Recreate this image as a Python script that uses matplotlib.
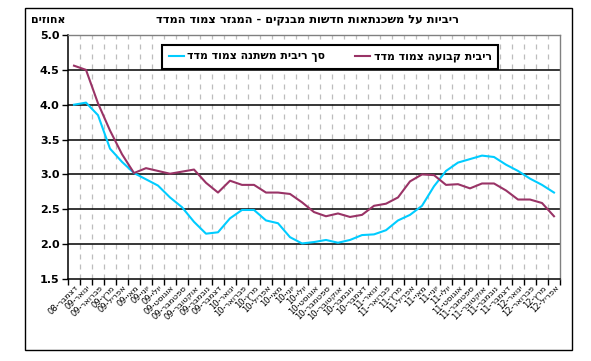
import matplotlib
matplotlib.use("Agg")
import matplotlib.pyplot as plt
from matplotlib.patches import Rectangle
import numpy as np

plt.rcParams['font.family'] = ['DejaVu Sans']

def vis(s):
    # visual (LTR) order for Hebrew text
    return s[::-1]

years = ["08"] + ["09"] * 12 + ["10"] * 12 + ["11"] * 12 + ["12"] * 4
month_seq = ["דצמבר"] + (["ינואר", "פברואר", "מרץ", "אפריל", "מאי", "יוני", "יולי",
                          "אוגוסט", "ספטמבר", "אוקטובר", "נובמבר", "דצמבר"] * 3) + \
            ["ינואר", "פברואר", "מרץ", "אפריל"]
tick_labels = [y + "-" + vis(m) for m, y in zip(month_seq, years)]

variable_rate = [4.00, 4.03, 3.85, 3.37, 3.18, 3.02, 2.93, 2.84, 2.67, 2.53,
                 2.32, 2.15, 2.17, 2.37, 2.49, 2.49, 2.34, 2.30, 2.10, 2.01,
                 2.03, 2.06, 2.02, 2.06, 2.13, 2.14, 2.20, 2.34, 2.42, 2.55,
                 2.83, 3.05, 3.17, 3.22, 3.27, 3.25, 3.14, 3.05, 2.94, 2.85,
                 2.74]
fixed_rate = [4.56, 4.50, 4.02, 3.63, 3.29, 3.02, 3.09, 3.05, 3.01, 3.04,
              3.07, 2.88, 2.74, 2.91, 2.85, 2.85, 2.74, 2.74, 2.72, 2.60,
              2.46, 2.40, 2.44, 2.39, 2.42, 2.55, 2.58, 2.67, 2.90, 3.00,
              2.99, 2.85, 2.86, 2.80, 2.87, 2.87, 2.77, 2.64, 2.64, 2.59,
              2.40]

title = "ריביות על משכנתאות חדשות מבנקים - המגזר צמוד המדד"
ylabel = "אחוזים"
legend_variable = "סך ריבית משתנה צמוד מדד"
legend_fixed = "ריבית קבועה צמוד מדד"

W, H = 591, 361
fig = plt.figure(figsize=(W / 100, H / 100), dpi=100)
fig.patch.set_facecolor("white")

# outer frame
fig.patches.append(Rectangle((25 / W, (H - 350) / H), (572 - 25) / W, (350 - 8) / H,
                             transform=fig.transFigure, fill=False, edgecolor="black",
                             linewidth=1.0))

ax = fig.add_axes([68 / W, (H - 279) / H, (560 - 68) / W, (279 - 35) / H])

n = len(fixed_rate)
x = np.arange(n) + 0.5

ax.set_xlim(0, n)
ax.set_ylim(1.5, 5.0)

# vertical dashed gridlines at category boundaries
for b in range(1, n):
    ax.axvline(b, color="#bdbdbd", linewidth=0.9, linestyle=(0, (4, 4)), zorder=1)
# horizontal gridlines
for yv in np.arange(2.0, 5.0, 0.5):
    ax.axhline(yv, color="black", linewidth=1.1, zorder=1)

ax.plot(x, variable_rate, color="#00CCFF", linewidth=1.5, zorder=3,
        label=vis(legend_variable))
ax.plot(x, fixed_rate, color="#993366", linewidth=1.5, zorder=3,
        label=vis(legend_fixed))

# ticks
ax.set_yticks(np.arange(1.5, 5.01, 0.5))
ax.set_yticklabels([f"{v:.1f}" for v in np.arange(1.5, 5.01, 0.5)],
                   fontsize=8, fontweight="bold")
ax.set_xticks(np.arange(0, n + 1), minor=True)
ax.set_xticks(x)
ax.set_xticklabels(tick_labels, rotation=45, ha="right", rotation_mode="anchor",
                   fontsize=6.0)
ax.tick_params(axis="x", which="major", length=0, pad=3)
ax.tick_params(axis="x", which="minor", length=4, width=1, direction="out", color="black")
ax.tick_params(axis="y", length=4, width=1, direction="out", pad=2)

for s in ["left", "bottom"]:
    ax.spines[s].set_color("black")
    ax.spines[s].set_linewidth(1.1)
for s in ["top", "right"]:
    ax.spines[s].set_color("#808080")
    ax.spines[s].set_linewidth(1.0)

leg = ax.legend(loc="upper left", bbox_to_anchor=((162 - 68) / (560 - 68), 1 - (45 - 35) / (279 - 35)),
                ncol=2, frameon=True, fancybox=False, edgecolor="black",
                prop={"size": 7.8, "weight": "bold"}, handlelength=1.4,
                handletextpad=0.3, columnspacing=2.8, borderpad=0.6,
                borderaxespad=0)
leg.get_frame().set_linewidth(1.5)
leg.get_frame().set_facecolor("white")
leg.get_frame().set_alpha(1)
leg.set_zorder(5)

fig.text(308 / W, (H - 20) / H, vis(title), ha="center", va="center",
         fontsize=8.2, fontweight="bold")
fig.text(48 / W, (H - 20) / H, vis(ylabel), ha="center", va="center",
         fontsize=7.8, fontweight="bold")

fig.savefig("out.png", dpi=100, facecolor="white")
